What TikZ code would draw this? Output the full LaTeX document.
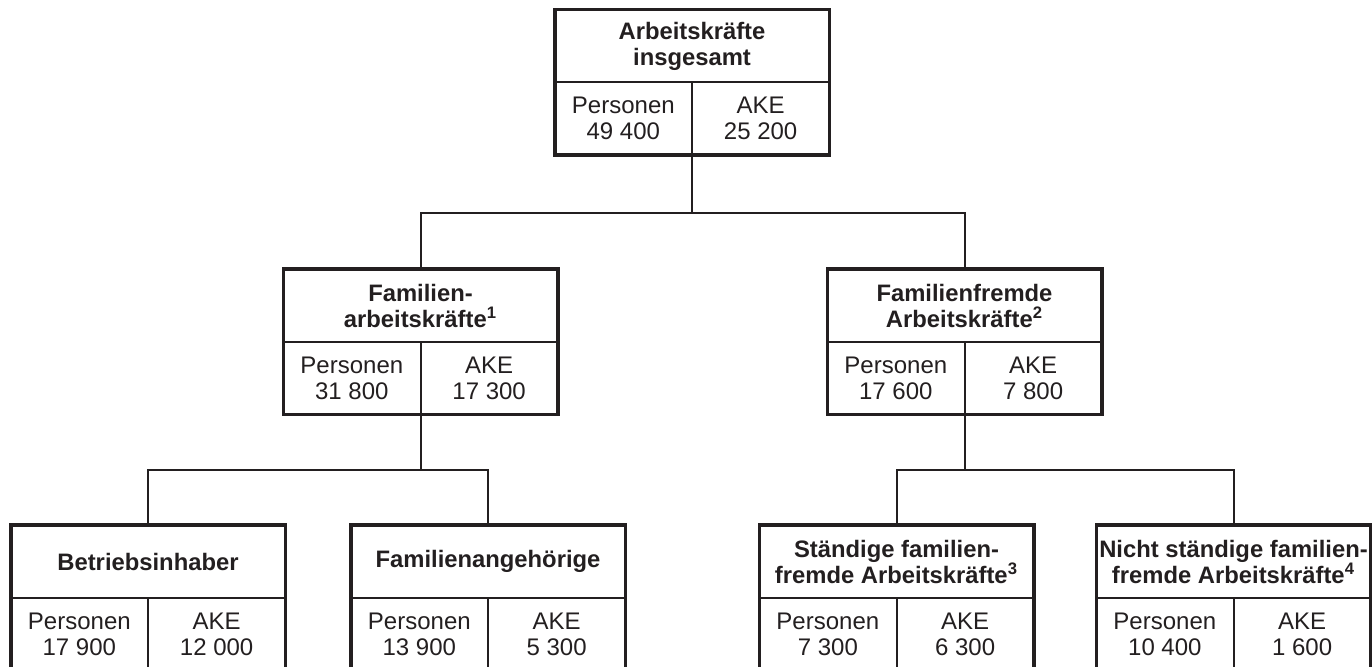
\documentclass[tikz,border=0pt]{standalone}
\usepackage{fontspec}
\setmainfont{Liberation Sans}

\definecolor{dunkel}{HTML}{231F20}

\tikzset{
  kopf/.style={minimum width=136.5pt, minimum height=36pt, inner sep=0pt,
    align=center, text=dunkel, font=\fontsize{11.9}{13}\selectfont\bfseries},
  zelle/.style={minimum width=68.25pt, minimum height=36pt, inner sep=0pt,
    align=center, text=dunkel, font=\fontsize{12}{13}\selectfont},
  rahmen/.style={draw=dunkel, line width=1.75pt},
  linie/.style={draw=dunkel, line width=1pt}
}

% Kasten: Name, x, y (Mitte Kopf), Kopf, Personen, AKE
\newcommand{\akebox}[6]{%
  \node[kopf] (#1) at (#2,#3) {#4};
  \node[zelle, anchor=north east] (#1-p) at (#1.south) {Personen\\#5};
  \node[zelle, anchor=north west] (#1-a) at (#1.south) {AKE\\#6};
  \draw[linie] (#1.south west) -- (#1.south east);
  \draw[linie] (#1.south) -- (#1-p.south east);
  \draw[rahmen] (#1.north west) rectangle (#1-a.south east);
}

\begin{document}
\begin{tikzpicture}[x=0.5pt, y=-0.5pt]

    \useasboundingbox (0,0) rectangle (1372,666);
    \clip (0,0) rectangle (1372,666);

    % Insgesamt
    \akebox{ges}{692}{46}{Arbeitskräfte\\insgesamt}{49 400}{25 200}

    % Familie / familienfremd
    \akebox{fam}{420.5}{305.5}{Familien-\\arbeitskräfte\textsuperscript{1}}{31 800}{17 300}
    \akebox{ffr}{964.5}{305.5}{Familienfremde\\Arbeitskräfte\textsuperscript{2}}{17 600}{7 800}

    % Untere Ebene
    \akebox{inh}{148}{561.5}{Betriebsinhaber}{17 900}{12 000}
    \akebox{ang}{488}{561.5}{Familienangehörige}{13 900}{5 300}
    \akebox{staend}{896.5}{561.5}{Ständige familien-\\fremde Arbeitskräfte\textsuperscript{3}}{7 300}{6 300}
    \akebox{nstaend}{1233.5}{561.5}{Nicht ständige familien-\\fremde Arbeitskräfte\textsuperscript{4}}{10 400}{1 600}

    % Verbindungen
    \coordinate (k1) at (692,213);
    \coordinate (k2) at (420.5,470);
    \coordinate (k3) at (964.5,470);

    \draw[linie] (ges-p.south east) -- (k1) -| (fam.north);
    \draw[linie] (k1) -| (ffr.north);

    \draw[linie] (fam-p.south east) -- (k2) -| (inh.north);
    \draw[linie] (k2) -| (ang.north);

    \draw[linie] (ffr-p.south east) -- (k3) -| (staend.north);
    \draw[linie] (k3) -| (nstaend.north);

\end{tikzpicture}
\end{document}
